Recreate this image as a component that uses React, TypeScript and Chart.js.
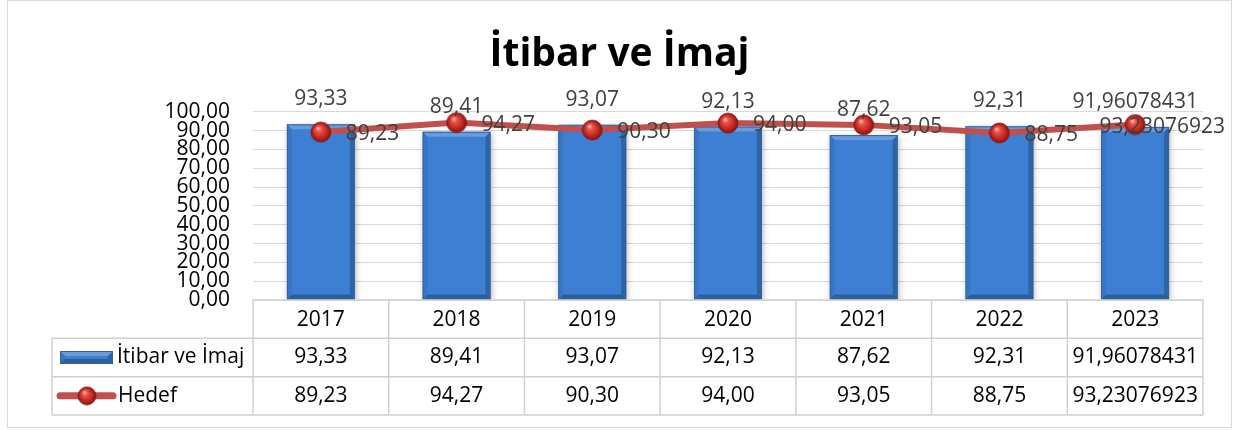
import { useEffect, useRef } from "react";
import { Chart, registerables } from "chart.js";

Chart.register(...registerables);

const chartTitle = "İtibar ve İmaj";
const categories = ["2017", "2018", "2019", "2020", "2021", "2022", "2023"];
const seriesNames = ["İtibar ve İmaj", "Hedef"];
const itibarValues = [93.33, 89.41, 93.07, 92.13, 87.62, 92.31, 91.96078431];
const hedefValues = [89.23, 94.27, 90.3, 94.0, 93.05, 88.75, 93.23076923];
const yMin = 0;
const yMax = 100;
const yStep = 10;

const FONT = "'Open Sans', 'Liberation Sans', sans-serif";
const BAR_COLOR = "#3d7fd2";
const LINE_COLOR = "#c0504d";

function fmt(v: number): string {
  const s = String(v);
  const d = (s.split(".")[1] || "").length;
  return (d <= 2 ? v.toFixed(2) : s).replace(".", ",");
}

function makeSphere(r: number): HTMLCanvasElement {
  const c = document.createElement("canvas");
  const size = r * 2 + 2;
  c.width = size;
  c.height = size;
  const g = c.getContext("2d")!;
  const cx = size / 2;
  const grad = g.createRadialGradient(cx - r * 0.3, cx - r * 0.4, r * 0.05, cx, cx, r);
  grad.addColorStop(0, "#ffb3a8");
  grad.addColorStop(0.25, "#e8544a");
  grad.addColorStop(0.7, "#c0271f");
  grad.addColorStop(1, "#7d1612");
  g.beginPath();
  g.arc(cx, cx, r, 0, Math.PI * 2);
  g.fillStyle = grad;
  g.fill();
  g.lineWidth = 0.8;
  g.strokeStyle = "#8a1a15";
  g.stroke();
  return c;
}

function drawBevelBar(ctx: CanvasRenderingContext2D, l: number, r: number, t: number, b: number) {
  const bv = 5;
  const poly = (pts: number[][], fill: string) => {
    ctx.beginPath();
    ctx.moveTo(pts[0][0], pts[0][1]);
    for (let i = 1; i < pts.length; i++) ctx.lineTo(pts[i][0], pts[i][1]);
    ctx.closePath();
    ctx.fillStyle = fill;
    ctx.fill();
  };
  poly([[l, t], [r, t], [r - bv, t + bv], [l + bv, t + bv]], "rgba(255,255,255,0.22)");
  poly([[l, t], [l + bv, t + bv], [l + bv, b - bv], [l, b]], "rgba(0,0,0,0.07)");
  poly([[r, t], [r - bv, t + bv], [r - bv, b - bv], [r, b]], "rgba(0,0,0,0.22)");
  poly([[l, b], [l + bv, b - bv], [r - bv, b - bv], [r, b]], "rgba(0,0,0,0.25)");
  ctx.strokeStyle = "#2f62a3";
  ctx.lineWidth = 1;
  ctx.strokeRect(l + 0.5, t + 0.5, r - l - 1, b - t - 1);
}

export default function App() {
  const canvasRef = useRef<HTMLCanvasElement | null>(null);

  useEffect(() => {
    const canvas = canvasRef.current;
    if (!canvas) return;
    const sphere = makeSphere(10);
    const legendSphere = makeSphere(9);

    const framePlugin = {
      id: "frame",
      beforeDraw(chart: any) {
        const ctx = chart.ctx;
        ctx.save();
        ctx.fillStyle = "#ffffff";
        ctx.fillRect(0, 0, chart.width, chart.height);
        ctx.strokeStyle = "#d9d9d9";
        ctx.lineWidth = 1;
        ctx.strokeRect(7.5, 0.5, chart.width - 15, chart.height - 4);
        ctx.restore();
      },
    };

    const barStylePlugin = {
      id: "barStyle",
      beforeDatasetDraw(chart: any, args: any) {
        if (args.index !== 0) return;
        const ctx = chart.ctx;
        ctx.save();
        ctx.shadowColor = "rgba(0,0,0,0.3)";
        ctx.shadowBlur = 6;
        ctx.shadowOffsetX = 1;
        ctx.shadowOffsetY = 2;
      },
      afterDatasetDraw(chart: any, args: any) {
        if (args.index !== 0) return;
        const ctx = chart.ctx;
        ctx.restore();
        ctx.save();
        const meta = chart.getDatasetMeta(0);
        meta.data.forEach((el: any) => {
          const w = el.width;
          drawBevelBar(ctx, el.x - w / 2, el.x + w / 2, el.y, el.base);
        });
        ctx.restore();
      },
    };

    const labelPlugin = {
      id: "labels",
      afterDatasetsDraw(chart: any) {
        const ctx = chart.ctx;
        ctx.save();
        ctx.font = `21px ${FONT}`;
        ctx.fillStyle = "#404040";
        ctx.textBaseline = "middle";
        const barMeta = chart.getDatasetMeta(0);
        ctx.textAlign = "center";
        barMeta.data.forEach((el: any, i: number) => {
          ctx.fillText(fmt(itibarValues[i]), el.x, el.y - 25);
        });
        const lineMeta = chart.getDatasetMeta(1);
        ctx.textAlign = "left";
        lineMeta.data.forEach((el: any, i: number) => {
          const txt = fmt(hedefValues[i]);
          const w = ctx.measureText(txt).width;
          let x = el.x + 25;
          if (x + w > chart.width - 14) x = chart.width - 14 - w;
          ctx.fillText(txt, x, el.y + 2);
        });
        ctx.restore();
      },
    };

    const tablePlugin = {
      id: "dataTable",
      afterDraw(chart: any) {
        const ctx = chart.ctx;
        const xs = chart.scales.x;
        const n = categories.length;
        const left = xs.left;
        const right = xs.right;
        const cw = (right - left) / n;
        const top = chart.chartArea.bottom;
        const rowH = xs.height / 3;
        const legendLeft = 52;
        const rows = [top, top + rowH, top + 2 * rowH, top + 3 * rowH];
        ctx.save();
        ctx.strokeStyle = "#d0d0d0";
        ctx.lineWidth = 1.5;
        ctx.beginPath();
        ctx.moveTo(left, rows[0]);
        ctx.lineTo(right, rows[0]);
        for (let r = 1; r <= 3; r++) {
          ctx.moveTo(legendLeft, rows[r]);
          ctx.lineTo(right, rows[r]);
        }
        for (let i = 0; i <= n; i++) {
          const x = left + i * cw;
          ctx.moveTo(x, rows[0]);
          ctx.lineTo(x, rows[3]);
        }
        ctx.moveTo(legendLeft, rows[1]);
        ctx.lineTo(legendLeft, rows[3]);
        ctx.stroke();

        ctx.font = `21px ${FONT}`;
        ctx.fillStyle = "#000000";
        ctx.textBaseline = "middle";
        ctx.textAlign = "center";
        for (let i = 0; i < n; i++) {
          const cx = left + (i + 0.5) * cw;
          ctx.fillText(fmt(itibarValues[i]), cx, rows[1] + rowH / 2);
          ctx.fillText(fmt(hedefValues[i]), cx, rows[2] + rowH / 2);
        }

        const y1 = rows[1] + rowH / 2;
        const y2 = rows[2] + rowH / 2;
        const bl = 60, br = 113, bt = y1 - 6.5, bb = y1 + 6.5;
        ctx.fillStyle = BAR_COLOR;
        ctx.fillRect(bl, bt, br - bl, bb - bt);
        drawBevelBar(ctx, bl, br, bt, bb);

        ctx.strokeStyle = LINE_COLOR;
        ctx.lineWidth = 7;
        ctx.lineCap = "round";
        ctx.beginPath();
        ctx.moveTo(60, y2);
        ctx.lineTo(113, y2);
        ctx.stroke();
        ctx.drawImage(legendSphere, 87 - legendSphere.width / 2, y2 - legendSphere.height / 2);

        ctx.textAlign = "left";
        ctx.fillStyle = "#000000";
        ctx.fillText(seriesNames[0], 117, y1);
        ctx.fillText(seriesNames[1], 118, y2);
        ctx.restore();
      },
    };

    const chart = new Chart(canvas, {
      type: "bar",
      data: {
        labels: categories,
        datasets: [
          {
            type: "bar",
            label: seriesNames[0],
            data: itibarValues,
            backgroundColor: BAR_COLOR,
            borderWidth: 0,
            categoryPercentage: 0.5,
            barPercentage: 1,
            order: 1,
          },
          {
            type: "line",
            label: seriesNames[1],
            data: hedefValues,
            borderColor: LINE_COLOR,
            borderWidth: 6,
            pointStyle: sphere as any,
            pointRadius: 10,
            tension: 0,
            order: 0,
          } as any,
        ],
      },
      options: {
        responsive: false,
        animation: false,
        layout: { padding: { top: 0, right: 36, bottom: 16, left: 36 } },
        plugins: {
          legend: { display: false },
          tooltip: { enabled: false },
          title: {
            display: true,
            text: chartTitle,
            color: "#000000",
            font: { family: FONT, size: 39, weight: "bold" },
            padding: { top: 31, bottom: 34 },
          },
        },
        scales: {
          x: {
            type: "category",
            offset: true,
            grid: { display: false, drawTicks: false },
            border: { display: false },
            ticks: { color: "#000000", font: { family: FONT, size: 21 }, padding: 7, maxRotation: 0 },
            afterFit: (scale: any) => {
              scale.height = 115;
            },
          },
          y: {
            min: yMin,
            max: yMax,
            grid: { color: "#d9d9d9", drawTicks: false, lineWidth: 1 },
            border: { display: false },
            ticks: {
              stepSize: yStep,
              autoSkip: false,
              color: "#000000",
              font: { family: FONT, size: 21, lineHeight: 0.9 },
              padding: 23,
              callback: (v: any) => fmt(Number(v)),
            },
            afterFit: (scale: any) => {
              scale.width = 217;
            },
          },
        },
      },
      plugins: [framePlugin, barStylePlugin, labelPlugin, tablePlugin],
    });
    return () => chart.destroy();
  }, []);

  return (
    <div style={{ position: "fixed", left: 0, top: 0, width: 1239, height: 431, background: "#fff" }}>
      <canvas ref={canvasRef} width={1239} height={431} style={{ display: "block" }} />
    </div>
  );
}
